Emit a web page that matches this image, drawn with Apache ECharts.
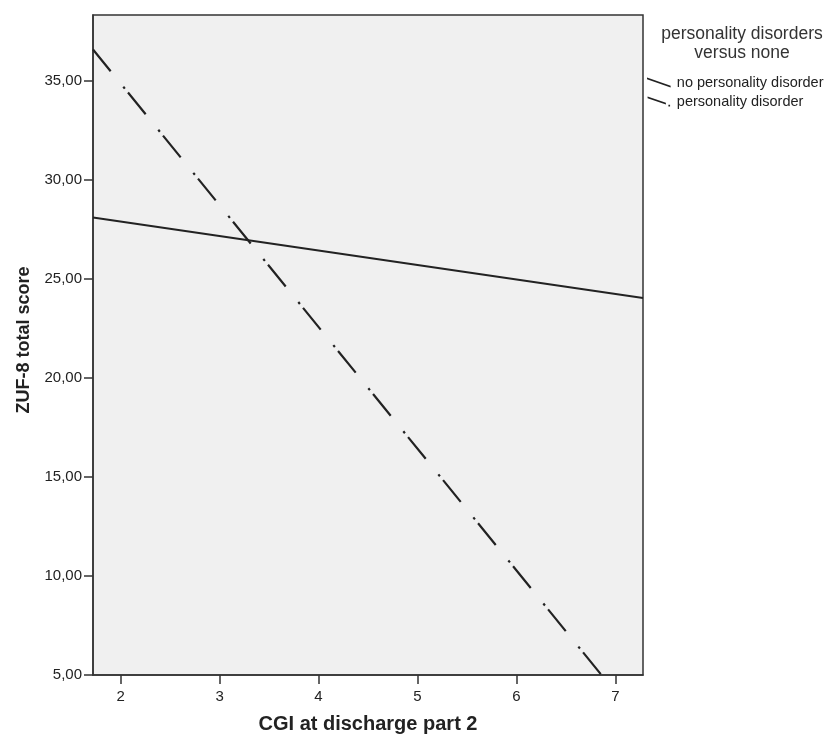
<!DOCTYPE html>
<html>
<head>
<meta charset="utf-8">
<script src="https://cdn.jsdelivr.net/npm/echarts@6/dist/echarts.min.js"></script>
<style>
html,body{margin:0;padding:0;background:#fff;}
#c{width:829px;height:735px;}
</style>
</head>
<body>
<div id="c"></div>
<script>
// Data
const xTicks = [2, 3, 4, 5, 6, 7];
const yTicks = [5, 10, 15, 20, 25, 30, 35];
const xRange = [1.72, 7.28];
const yRange = [5, 38.32];
const seriesNames = ['no personality disorder', 'personality disorder'];
const noPdLine = [[1.72, 28.1], [7.28, 24.03]];
const pdLine = [[1.72, 36.58], [6.86, 5.0]];
const legendTitle = 'personality disorders\nversus none';
const xTitle = 'CGI at discharge part 2';
const yTitle = 'ZUF-8 total score';

const FONT = '"Liberation Sans", Arial, sans-serif';
const fmt = v => v.toFixed(2).replace('.', ',');

const chart = echarts.init(document.getElementById('c'), null, {renderer: 'canvas'});
chart.setOption({
  animation: false,
  backgroundColor: '#ffffff',
  textStyle: {fontFamily: FONT},
  title: {
    text: legendTitle,
    left: 737,
    top: 20,
    padding: 5,
    textAlign: 'center',
    textStyle: {fontFamily: FONT, fontSize: 17.5, fontWeight: 'normal', color: '#333', lineHeight: 19}
  },
  legend: {
    orient: 'vertical',
    left: 647,
    top: 75,
    padding: 0,
    itemWidth: 26,
    itemHeight: 10,
    itemGap: 4,
    textStyle: {fontFamily: FONT, fontSize: 14.5, color: '#222', lineHeight: 14},
    data: [
      {name: seriesNames[0], icon: 'path://M0,0L26,9L26,11L0,2Z'},
      {name: seriesNames[1], icon: 'path://M0,0L22,7.6L22,9.6L0,2Z M25,10L27,10L27,12L25,12Z'}
    ]
  },
  grid: {
    left: 93, right: 186, top: 15, bottom: 60,
    containLabel: false,
    outerBoundsMode: 'none',
    show: true, backgroundColor: '#f0f0f0', borderColor: '#333', borderWidth: 1.5
  },
  xAxis: {
    type: 'value',
    min: xRange[0], max: xRange[1],
    splitLine: {show: false},
    axisLine: {show: true, lineStyle: {color: '#333', width: 1.5}},
    axisTick: {show: true, customValues: xTicks, length: 9, lineStyle: {color: '#333', width: 1.5}},
    axisLabel: {customValues: xTicks, fontFamily: FONT, fontSize: 15, color: '#222', margin: 14,
      formatter: v => String(v)},
    name: xTitle,
    nameLocation: 'middle',
    nameGap: 39,
    nameTextStyle: {fontFamily: FONT, fontSize: 20, fontWeight: 'bold', color: '#222'}
  },
  yAxis: {
    type: 'value',
    min: yRange[0], max: yRange[1],
    splitLine: {show: false},
    axisLine: {show: true, lineStyle: {color: '#333', width: 1.5}},
    axisTick: {show: true, customValues: yTicks, length: 9, lineStyle: {color: '#333', width: 1.5}},
    axisLabel: {customValues: yTicks, fontFamily: FONT, fontSize: 15, color: '#222', margin: 11,
      formatter: v => fmt(v)},
    name: yTitle,
    nameLocation: 'middle',
    nameGap: 60,
    nameRotate: 90,
    nameTextStyle: {fontFamily: FONT, fontSize: 18, fontWeight: 'bold', color: '#222', padding: [0, 0, 0, 10]}
  },
  series: [
    {
      name: seriesNames[0], type: 'line', data: noPdLine, showSymbol: false, symbol: 'none',
      itemStyle: {color: '#222'},
      lineStyle: {color: '#222', width: 2, type: 'solid'}
    },
    {
      name: seriesNames[1], type: 'line', data: pdLine, showSymbol: false, symbol: 'none',
      itemStyle: {color: '#222'},
      lineStyle: {color: '#222', width: 2.2, type: [28, 20, 2.5, 5], dashOffset: 0}
    }
  ]
});
</script>
</body>
</html>
